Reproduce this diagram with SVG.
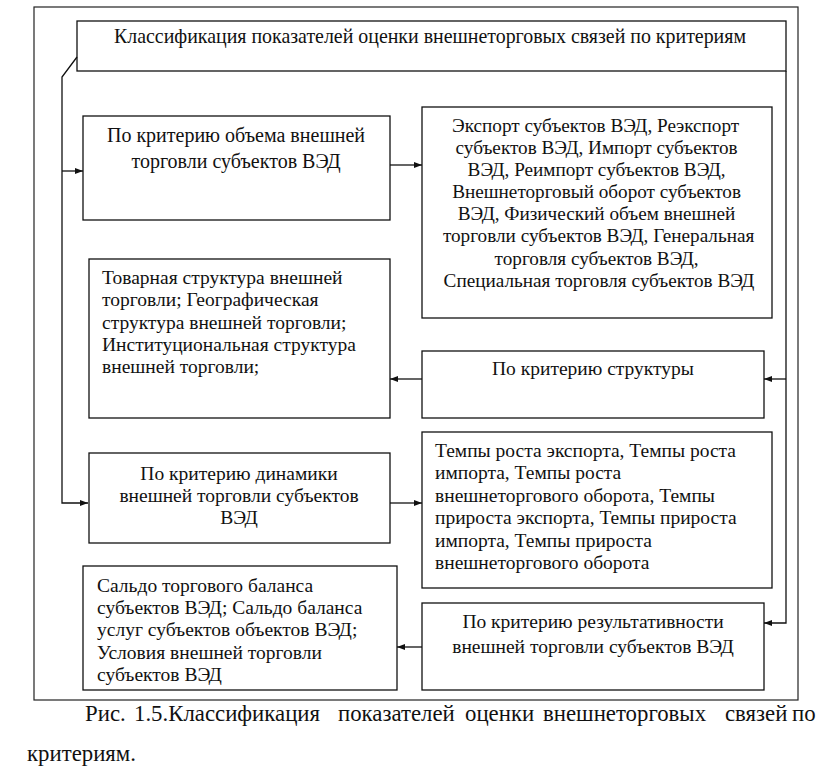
<svg xmlns="http://www.w3.org/2000/svg" width="836" height="774" viewBox="0 0 836 774">
  <style>
    .frame { fill: none; stroke: #222; stroke-width: 1.2; }
    .box { fill: #fff; stroke: #111; stroke-width: 1.3; }
    .t { font-family: "Liberation Serif", "DejaVu Serif", serif; font-size: 19.5px; fill: #111; }
    .c { text-anchor: middle; }
    .cap { font-family: "Liberation Serif", "DejaVu Serif", serif; font-size: 22.8px; fill: #111; }
    .ln { fill: none; stroke: #111; stroke-width: 1.3; }
  </style>
  <defs>
    <marker id="ah" viewBox="0 0 8 6" refX="8" refY="3" markerWidth="8" markerHeight="6" markerUnits="userSpaceOnUse" orient="auto">
      <path d="M0,0 L8,3 L0,6 z" fill="#111"/>
    </marker>
  </defs>
  <rect width="836" height="774" fill="#fff"/>
  <rect class="frame" x="34" y="7" width="764" height="693"/>

  <g id="title">
    <rect class="box" x="77" y="21" width="709" height="50"/>
    <text class="t c" x="430" y="43" style="font-size:19.9px">Классификация показателей оценки внешнеторговых связей по критериям</text>
  </g>

  <g id="connectors">
    <path class="ln" d="M77,57 L62,77 L62,503 L88,503" marker-end="url(#ah)"/>
    <path class="ln" d="M62,171 L83,171" marker-end="url(#ah)"/>
    <path class="ln" d="M786,71 L786,623 L764,623" marker-end="url(#ah)"/>
    <path class="ln" d="M786,379 L764,379" marker-end="url(#ah)"/>
    <path class="ln" d="M390,165 L422,165" marker-end="url(#ah)"/>
    <path class="ln" d="M422,379 L390,379" marker-end="url(#ah)"/>
    <path class="ln" d="M390,503 L422,503" marker-end="url(#ah)"/>
    <path class="ln" d="M422,647 L397,647" marker-end="url(#ah)"/>
  </g>

  <g id="volume">
    <rect class="box" x="83" y="116" width="307" height="104"/>
    <text class="t c" x="236" y="141.5" style="font-size:20px">По критерию объема внешней</text>
    <text class="t c" x="236" y="168.3" style="font-size:20px">торговли субъектов ВЭД</text>
  </g>

  <g id="volume-list">
    <rect class="box" x="422" y="107" width="350" height="211"/>
    <text class="t c" x="599" style="font-size:19.2px">
      <tspan x="598" y="131.7">Экспорт субъектов ВЭД, Реэкспорт</tspan>
      <tspan x="599" y="153.8">субъектов ВЭД, Импорт субъектов</tspan>
      <tspan x="599" y="176">ВЭД, Реимпорт субъектов ВЭД,</tspan>
      <tspan x="599" y="198.1">Внешнеторговый оборот субъектов</tspan>
      <tspan x="599" y="220.3">ВЭД, Физический объем внешней</tspan>
      <tspan x="601" y="242.4">торговли субъектов ВЭД, Генеральная</tspan>
      <tspan x="599" y="264.6">торговля субъектов ВЭД,</tspan>
      <tspan x="599" y="286.7">Специальная торговля субъектов ВЭД</tspan>
    </text>
  </g>

  <g id="structure-list">
    <rect class="box" x="89" y="259" width="301" height="159"/>
    <text class="t">
      <tspan x="102" y="284.3">Товарная структура внешней</tspan>
      <tspan x="102" y="306.4">торговли; Географическая</tspan>
      <tspan x="102" y="328.5">структура внешней торговли;</tspan>
      <tspan x="102" y="350.6">Институциональная структура</tspan>
      <tspan x="102" y="372.7">внешней торговли;</tspan>
    </text>
  </g>

  <g id="structure">
    <rect class="box" x="422" y="351" width="342" height="67"/>
    <text class="t c" x="593" y="375">По критерию структуры</text>
  </g>

  <g id="dynamics">
    <rect class="box" x="89" y="453" width="301" height="90"/>
    <text class="t c" x="239" y="479.5">По критерию динамики</text>
    <text class="t c" x="239" y="501.7">внешней торговли субъектов</text>
    <text class="t c" x="239" y="524">ВЭД</text>
  </g>

  <g id="dynamics-list">
    <rect class="box" x="422" y="432" width="350" height="156"/>
    <text class="t">
      <tspan x="435" y="456.7">Темпы роста экспорта, Темпы роста</tspan>
      <tspan x="435" y="479.2">импорта, Темпы роста</tspan>
      <tspan x="435" y="501.7">внешнеторгового оборота, Темпы</tspan>
      <tspan x="435" y="524.2">прироста экспорта, Темпы прироста</tspan>
      <tspan x="435" y="546.7">импорта, Темпы прироста</tspan>
      <tspan x="435" y="569.2">внешнеторгового оборота</tspan>
    </text>
  </g>

  <g id="result-list">
    <rect class="box" x="83" y="566" width="314" height="124"/>
    <text class="t">
      <tspan x="97" y="591.7">Сальдо торгового баланса</tspan>
      <tspan x="97" y="614">субъектов ВЭД; Сальдо баланса</tspan>
      <tspan x="97" y="636.3">услуг субъектов объектов ВЭД;</tspan>
      <tspan x="97" y="658.6">Условия внешней торговли</tspan>
      <tspan x="97" y="680.9">субъектов ВЭД</tspan>
    </text>
  </g>

  <g id="result">
    <rect class="box" x="422" y="603" width="342" height="87"/>
    <text class="t c" x="593" y="628.3">По критерию результативности</text>
    <text class="t c" x="593" y="652.7">внешней торговли субъектов ВЭД</text>
  </g>

  <g id="caption">
    <text class="cap" y="721">
      <tspan x="85">Рис.</tspan>
      <tspan x="134">1.5.Классификация</tspan>
      <tspan x="338">показателей</tspan>
      <tspan x="465">оценки</tspan>
      <tspan x="543">внешнеторговых</tspan>
      <tspan x="725">связей</tspan>
      <tspan x="792">по</tspan>
    </text>
    <text class="cap" x="27" y="761">критериям.</text>
  </g>
</svg>
